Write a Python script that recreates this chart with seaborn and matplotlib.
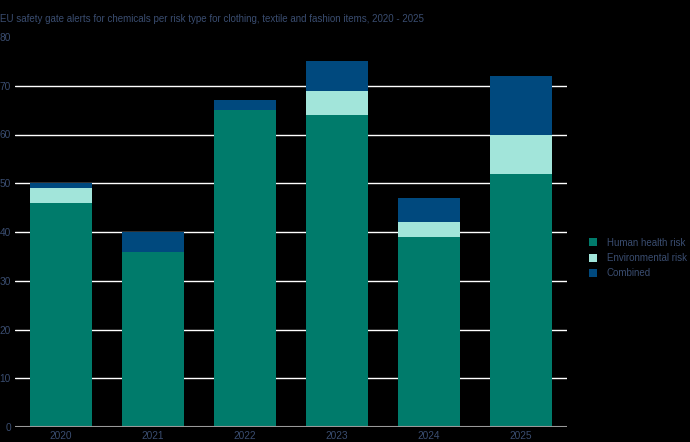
import matplotlib
matplotlib.use("Agg")
import matplotlib.pyplot as plt
import seaborn as sns
import pandas as pd
import numpy as np
from matplotlib.patches import Patch

years = ["2020", "2021", "2022", "2023", "2024", "2025"]
human_health = [46, 36, 65, 64, 39, 52]
environmental = [3, 0, 0, 5, 3, 8]
combined = [1, 4, 2, 6, 5, 12]
series_names = ["Human health risk", "Environmental risk", "Combined"]
colors = ["#007b6b", "#a2e5da", "#00497e"]
title = "EU safety gate alerts for chemicals per risk type for clothing, textile and fashion items, 2020 - 2025"
yticks = [0, 10, 20, 30, 40, 50, 60, 70, 80]

sns.set_theme(style="white")
plt.rcParams['font.family'] = ['Liberation Sans', 'DejaVu Sans']
text_color = "#3a4d70"

fig = plt.figure(figsize=(6.9, 4.42), dpi=100)
fig.patch.set_facecolor("black")
ax = fig.add_axes([15/690, 1-427/442, 552/690, 390/442])
ax.set_facecolor("black")

df = pd.DataFrame({"year": years, "h": human_health, "e": environmental, "c": combined})
bottom_e = np.array(human_health)
bottom_c = bottom_e + np.array(environmental)

sns.barplot(data=df, x="year", y="h", color=colors[0], width=0.67, ax=ax,
            saturation=1, linewidth=0, zorder=3)
sns.barplot(data=df, x="year", y="e", color=colors[1], width=0.67, ax=ax,
            saturation=1, linewidth=0, bottom=bottom_e, zorder=3)
sns.barplot(data=df, x="year", y="c", color=colors[2], width=0.67, ax=ax,
            saturation=1, linewidth=0, bottom=bottom_c, zorder=3)

ax.set_xlim(-0.5, 5.5)
ax.set_ylim(0, 80)
ax.set_yticks(yticks)
for y in yticks[1:-1]:
    ax.axhline(y, color="white", linewidth=1, zorder=1)
ax.axhline(0, color="#999999", linewidth=1.5, zorder=4)
ax.set_xlabel("")
ax.set_ylabel("")
for s in ax.spines.values():
    s.set_visible(False)
ax.tick_params(axis="both", length=0, labelsize=7.3, colors=text_color)
ax.tick_params(axis="y", pad=3)
ax.tick_params(axis="x", pad=3)
for lab in ax.get_yticklabels():
    lab.set_horizontalalignment("right")

fig.text(0.0, 1-19/442, title, fontsize=7.0, color=text_color, va="center", ha="left")

handles = [Patch(facecolor=c, edgecolor="none") for c in colors]
leg = fig.legend(handles, series_names, loc="center left",
                 bbox_to_anchor=(580/690, 1-258/442), frameon=False,
                 fontsize=7.0, handlelength=0.85, handleheight=0.85, labelspacing=0.55,
                 handletextpad=1.0)
for t in leg.get_texts():
    t.set_color(text_color)

fig.savefig("out.png", dpi=100, facecolor="black")
